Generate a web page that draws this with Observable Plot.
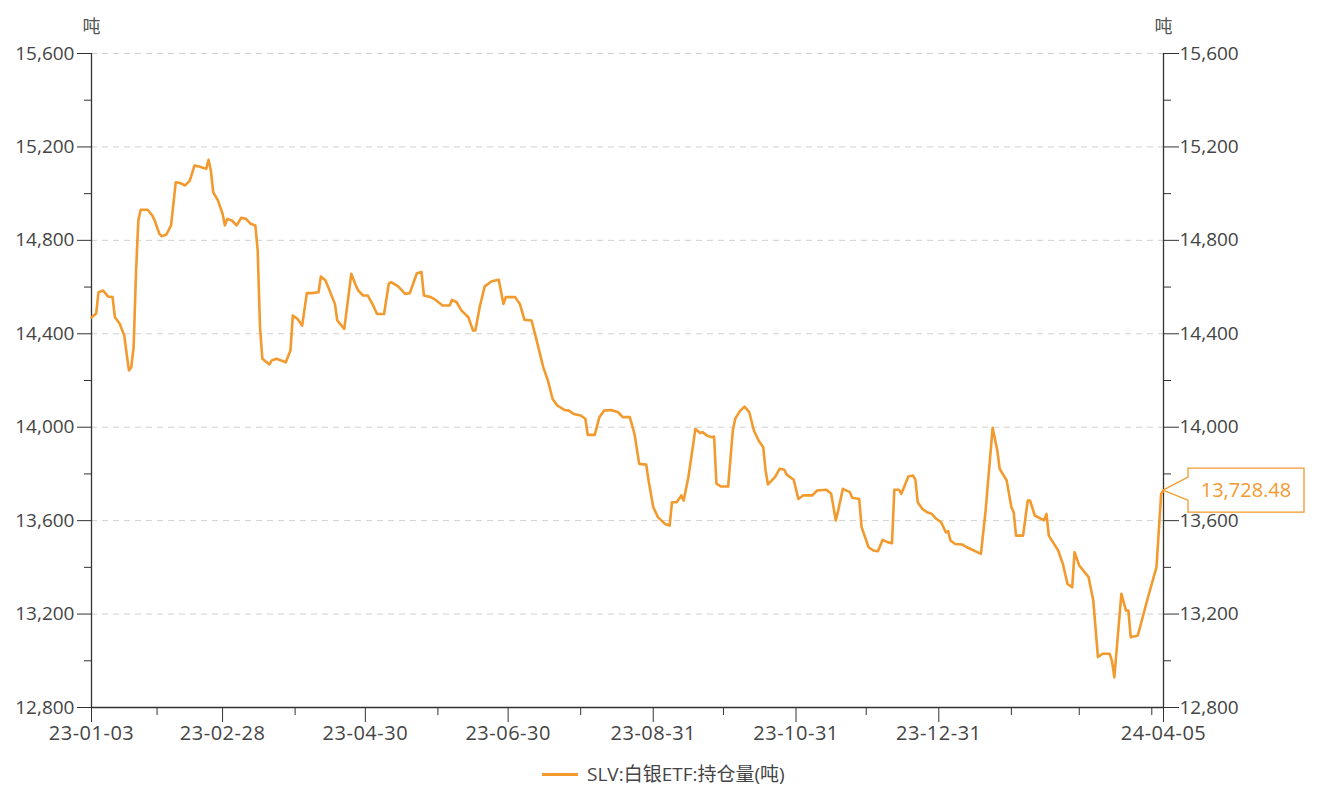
<!DOCTYPE html>
<html><head><meta charset="utf-8">
<script src="https://cdn.jsdelivr.net/npm/d3@7"></script>
<script src="https://cdn.jsdelivr.net/npm/@observablehq/plot@0.6"></script>
<style>
body{margin:0;background:#fff;font-family:"Open Sans","Noto Sans CJK SC",sans-serif;}
#chart{position:relative;width:1317px;height:787px;overflow:hidden;}
#legend{position:absolute;left:542px;top:763px;height:22px;display:flex;align-items:center;font-size:19px;line-height:22px;color:#444;white-space:nowrap;}
#legend .sw{width:36px;height:3px;background:#f29a2e;margin-right:9px;}
#legend .lb{line-height:22px;display:inline-block;}
</style></head><body><div id="chart"></div>
<script>
const dates = ["2023-01-03","2023-01-05","2023-01-06","2023-01-08","2023-01-10","2023-01-12","2023-01-13","2023-01-15","2023-01-17","2023-01-18","2023-01-19","2023-01-20","2023-01-21","2023-01-22","2023-01-23","2023-01-24","2023-01-27","2023-01-29","2023-01-30","2023-02-01","2023-02-02","2023-02-04","2023-02-06","2023-02-08","2023-02-10","2023-02-12","2023-02-14","2023-02-16","2023-02-18","2023-02-21","2023-02-22","2023-02-23","2023-02-24","2023-02-26","2023-02-28","2023-03-01","2023-03-02","2023-03-04","2023-03-06","2023-03-08","2023-03-10","2023-03-12","2023-03-14","2023-03-15","2023-03-16","2023-03-17","2023-03-20","2023-03-21","2023-03-23","2023-03-25","2023-03-27","2023-03-29","2023-03-30","2023-04-01","2023-04-03","2023-04-05","2023-04-07","2023-04-10","2023-04-11","2023-04-13","2023-04-17","2023-04-18","2023-04-21","2023-04-24","2023-04-26","2023-04-27","2023-04-29","2023-05-01","2023-05-03","2023-05-05","2023-05-08","2023-05-10","2023-05-11","2023-05-14","2023-05-17","2023-05-19","2023-05-22","2023-05-24","2023-05-25","2023-05-28","2023-05-30","2023-06-02","2023-06-05","2023-06-06","2023-06-08","2023-06-10","2023-06-13","2023-06-15","2023-06-16","2023-06-18","2023-06-20","2023-06-23","2023-06-26","2023-06-28","2023-06-29","2023-07-03","2023-07-05","2023-07-07","2023-07-10","2023-07-12","2023-07-15","2023-07-17","2023-07-19","2023-07-21","2023-07-24","2023-07-26","2023-07-28","2023-07-31","2023-08-02","2023-08-03","2023-08-06","2023-08-08","2023-08-10","2023-08-13","2023-08-16","2023-08-18","2023-08-21","2023-08-23","2023-08-25","2023-08-28","2023-08-29","2023-08-31","2023-09-02","2023-09-05","2023-09-07","2023-09-08","2023-09-10","2023-09-12","2023-09-13","2023-09-15","2023-09-17","2023-09-18","2023-09-20","2023-09-21","2023-09-23","2023-09-25","2023-09-26","2023-09-27","2023-09-29","2023-10-02","2023-10-04","2023-10-05","2023-10-07","2023-10-09","2023-10-11","2023-10-13","2023-10-15","2023-10-17","2023-10-18","2023-10-19","2023-10-22","2023-10-24","2023-10-26","2023-10-27","2023-10-30","2023-11-01","2023-11-03","2023-11-07","2023-11-09","2023-11-13","2023-11-15","2023-11-17","2023-11-18","2023-11-20","2023-11-23","2023-11-24","2023-11-27","2023-11-28","2023-12-01","2023-12-03","2023-12-05","2023-12-07","2023-12-09","2023-12-11","2023-12-12","2023-12-14","2023-12-15","2023-12-18","2023-12-20","2023-12-21","2023-12-22","2023-12-24","2023-12-26","2023-12-28","2023-12-30","2024-01-01","2024-01-03","2024-01-04","2024-01-05","2024-01-07","2024-01-10","2024-01-12","2024-01-18","2024-01-20","2024-01-23","2024-01-25","2024-01-26","2024-01-29","2024-01-31","2024-02-01","2024-02-02","2024-02-05","2024-02-07","2024-02-08","2024-02-10","2024-02-14","2024-02-15","2024-02-16","2024-02-20","2024-02-22","2024-02-24","2024-02-26","2024-02-27","2024-02-29","2024-03-04","2024-03-06","2024-03-08","2024-03-10","2024-03-13","2024-03-14","2024-03-15","2024-03-18","2024-03-20","2024-03-21","2024-03-22","2024-03-25","2024-03-29","2024-04-02","2024-04-04","2024-04-05"];
const values = [14470,14487,14578,14585,14560,14557,14471,14444,14393,14316,14243,14257,14343,14658,14885,14931,14931,14906,14885,14828,14818,14825,14864,15049,15045,15035,15056,15120,15116,15106,15145,15099,15006,14971,14914,14864,14892,14885,14864,14897,14892,14871,14864,14757,14428,14293,14269,14286,14293,14286,14278,14328,14478,14464,14435,14574,14574,14578,14645,14628,14528,14457,14421,14657,14605,14585,14564,14564,14528,14485,14485,14614,14621,14603,14571,14574,14659,14664,14564,14557,14545,14521,14521,14545,14535,14500,14471,14414,14414,14521,14603,14625,14631,14528,14557,14557,14528,14460,14457,14379,14257,14200,14121,14093,14074,14071,14057,14050,14036,13967,13967,14043,14071,14074,14064,14043,14043,13971,13843,13840,13772,13658,13615,13586,13579,13679,13679,13708,13686,13786,13922,13993,13975,13979,13964,13957,13960,13758,13746,13746,13986,14036,14069,14088,14065,13986,13943,13914,13815,13755,13786,13822,13818,13797,13775,13693,13708,13708,13729,13732,13715,13601,13643,13736,13722,13698,13693,13572,13486,13472,13469,13518,13508,13503,13732,13732,13715,13789,13793,13775,13679,13650,13636,13629,13607,13593,13550,13555,13515,13500,13498,13486,13458,13643,13998,13900,13822,13772,13658,13636,13536,13536,13686,13686,13622,13601,13629,13536,13472,13415,13329,13315,13465,13408,13358,13258,13016,13030,13030,12999,12929,13287,13215,13215,13101,13108,13258,13401,13715,13728.48];
const xLabelDates = ["2023-01-03","2023-02-28","2023-04-30","2023-06-30","2023-08-31","2023-10-31","2023-12-31","2024-04-05"];
const xMinorDates = ["2023-01-31","2023-03-31","2023-05-31","2023-07-31","2023-09-30","2023-11-30","2024-01-31","2024-02-29","2024-03-31"];
const yMajor = [12800,13200,13600,14000,14400,14800,15200,15600];
const yMinor = [13000,13400,13800,14200,14600,15000,15400];
const seriesName = "SLV:白银ETF:持仓量(吨)";
const unit = "吨";
const lastLabel = "13,728.48";

const orange = "#f29a2e";
const axisColor = "#333";
const data = dates.map((d, i) => ({date: new Date(d), value: values[i]}));
const last = data[data.length - 1];
const x0 = new Date(dates[0]), x1 = new Date(dates[dates.length - 1]);
const yBase = yMajor[0];
const fmt = d3.format(",");
const font = '"Open Sans","Noto Sans CJK SC",sans-serif';

// callout drawn from the library's scales
function callout(index, scales) {
  const px = scales.x(last.date), py = scales.y(last.value);
  const off = 25, w = 116, h = 44;
  const g = d3.create("svg:g");
  const L = px + off, T = py - h / 2, B = py + h / 2, R = L + w;
  g.append("path")
    .attr("d", `M${px},${py}L${L},${py - 13}L${L},${T}L${R},${T}L${R},${B}L${L},${B}L${L},${py + 10}Z`)
    .attr("fill", "white").attr("stroke", orange).attr("stroke-width", 1.3);
  g.append("text").attr("x", L + w / 2).attr("y", py).attr("dy", "0.35em")
    .attr("text-anchor", "middle").attr("fill", orange)
    .attr("font-size", 20).attr("font-family", font).text(lastLabel);
  return g.node();
}

const plot = Plot.plot({
  width: 1317, height: 752,
  marginLeft: 91, marginRight: 154, marginTop: 53, marginBottom: 45,
  style: {fontFamily: font, fontSize: "19px", color: "#444", background: "#fff", overflow: "visible"},
  x: {type: "utc", domain: [x0, x1], label: null},
  y: {domain: [12800, 15600], label: null},
  marks: [
    Plot.ruleY(yMajor.slice(1), {stroke: "#d0d0d0", strokeDasharray: "6,5", strokeWidth: 1}),
    Plot.ruleY(yMinor, {y: d => d, x1: x0, x2: x0, insetLeft: -7, stroke: axisColor}),
    Plot.ruleY(yMinor, {y: d => d, x1: x1, x2: x1, insetRight: -8, stroke: axisColor}),
    Plot.ruleX(xMinorDates.map(d => new Date(d)), {x: d => d, y1: yBase, y2: yBase, insetBottom: -8, stroke: axisColor}),
    Plot.axisY(yMajor, {anchor: "left", tickSize: 14, tickPadding: 3, tickFormat: fmt, stroke: axisColor, label: null}),
    Plot.axisY(yMajor, {anchor: "right", tickSize: 15, tickPadding: 1, tickFormat: fmt, stroke: axisColor, label: null}),
    Plot.axisX(xLabelDates.map(d => new Date(d)), {anchor: "bottom", tickSize: 15, tickPadding: 3, fontSize: 20, tickFormat: d3.utcFormat("%y-%m-%d"), stroke: axisColor, label: null}),
    Plot.ruleX([x0, x1], {stroke: axisColor, strokeWidth: 1.3}),
    Plot.ruleY([yBase], {stroke: axisColor, strokeWidth: 1.3}),
    Plot.lineY(data, {x: "date", y: "value", stroke: orange, strokeWidth: 2.6, strokeLinejoin: "round"}),
    Plot.text([unit], {frameAnchor: "top-left", dy: -33, textAnchor: "middle", fontSize: 18, fill: "#555", text: d => d}),
    Plot.text([unit], {frameAnchor: "top-right", dy: -33, textAnchor: "middle", fontSize: 18, fill: "#555", text: d => d}),
    callout
  ]
});
document.getElementById("chart").appendChild(plot);
d3.select(plot).selectAll('g[aria-label="x-axis tick label"] text').style("letter-spacing", "0.5px");

const legend = document.createElement("div");
legend.id = "legend";
legend.innerHTML = '<span class="sw"></span><span class="lb"></span>';
legend.lastChild.textContent = seriesName;
document.getElementById("chart").appendChild(legend);
</script></body></html>
